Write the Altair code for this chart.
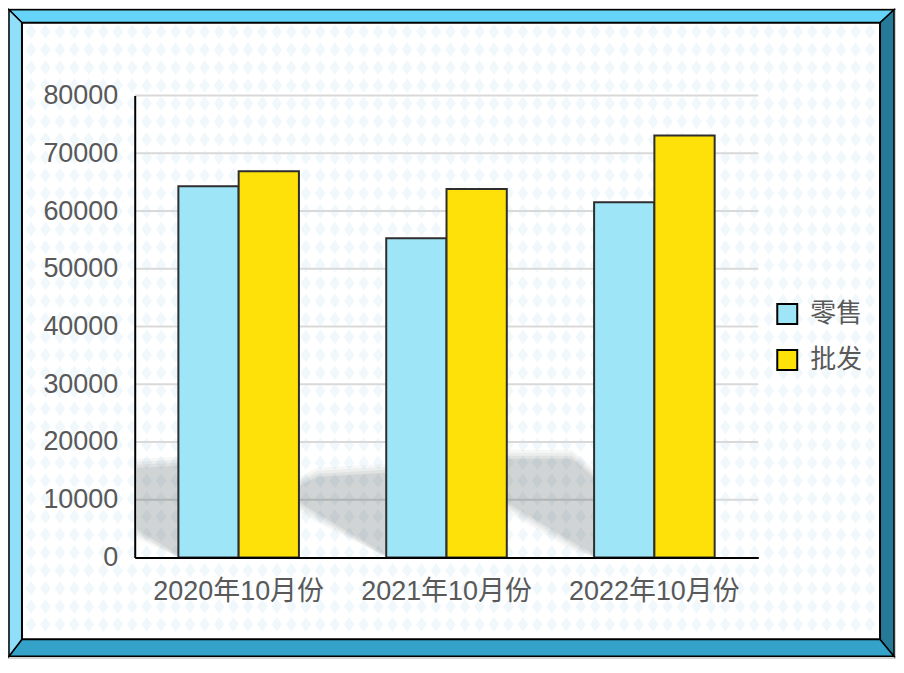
import altair as alt
import pandas as pd
import numpy as np

# ---------------- data ----------------
periods = ["2020年10月份", "2021年10月份", "2022年10月份"]
series = ["零售", "批发"]
retail = [64300, 55300, 61500]
wholesale = [66900, 63800, 73100]
y_ticks = [0, 10000, 20000, 30000, 40000, 50000, 60000, 70000, 80000]
colors = ["#9ee5f8", "#ffe10a"]

# ---------------- layout (page pixels) ----------------
OX, OY = 135, 95          # plot origin on the page
W, H = 625, 463           # plot area
FONT = "Liberation Sans, Noto Sans CJK SC"
LABEL = "#595959"

rows = []
for p, r, w in zip(periods, retail, wholesale):
    rows.append({"period": p, "type": series[0], "value": r})
    rows.append({"period": p, "type": series[1], "value": w})
df = pd.DataFrame(rows)

def vx(x):
    return x - OX

def vy(y):
    return y - OY

# frame bevels (page coords): side, x, y, y2, fill
L, R, T, B = 9, 896, 9, 657
IL, IR, IT, IB = 22, 882, 22, 640
frame_pts = [
    ("top", L, T, T, "#66d4f8"), ("top", IL, T, IT, "#66d4f8"),
    ("top", IR, T, IT, "#66d4f8"), ("top", R, T, T, "#66d4f8"),
    ("bottom", L, B, B, "#35a2c9"), ("bottom", IL, IB, B, "#35a2c9"),
    ("bottom", IR, IB, B, "#35a2c9"), ("bottom", R, B, B, "#35a2c9"),
    ("left", L, T, B, "#8fdffa"), ("left", IL, IT, IB, "#8fdffa"),
    ("right", IR, IT, IB, "#277a97"), ("right", R, T, B, "#277a97"),
]
frame_df = pd.DataFrame(
    [{"side": s, "x": vx(x), "y": vy(y), "y2": vy(y2), "fill": f} for s, x, y, y2, f in frame_pts]
)

# diamond background pattern
gx = np.arange(31, IR - 4, 14.5)
gy = np.arange(31, IB - 4, 18.0)
GX, GY = np.meshgrid(gx, gy)
pat_df = pd.DataFrame({"x": vx(GX.ravel()), "y": vy(GY.ravel())})

# soft shadows behind bar groups (page coords): id, x, y, y2
shadow_pts = [
    ("s1", 137, 467, 531), ("s1", 180, 465, 557),
    ("s2", 300, 485, 504), ("s2", 318, 476, 515), ("s2", 388, 472, 557),
    ("s3", 508, 458, 504), ("s3", 573, 458, 543), ("s3", 597, 478, 557),
]

def shadow_layer(grow, opacity):
    d = pd.DataFrame(
        [{"id": i, "x": vx(x), "y": vy(y) - grow, "y2": min(vy(y2) + grow, H)}
         for i, x, y, y2 in shadow_pts]
    )
    return alt.Chart(d).mark_area(
        orient="vertical", color="#2a3238", opacity=opacity
    ).encode(
        x=alt.X("x:Q", scale=None, axis=None),
        y=alt.Y("y:Q", scale=None, axis=None),
        y2="y2:Q",
        detail="id:N",
    )

grid_df = pd.DataFrame({"tick": y_ticks[1:]})

y_axis = alt.Axis(
    values=y_ticks, format="d", ticks=False, grid=False,
    domainColor="black", domainWidth=2, labelPadding=17,
    labelFontSize=27, labelColor=LABEL, labelFont=FONT, zindex=1,
)
y_scale = alt.Scale(domain=[0, 80000], nice=False)

# ---------------- layers ----------------
frame = alt.Chart(frame_df).mark_area(
    orient="vertical", stroke="black", strokeWidth=1.5
).encode(
    x=alt.X("x:Q", scale=None, axis=None),
    y=alt.Y("y:Q", scale=None, axis=None),
    y2="y2:Q",
    fill=alt.Fill("fill:N", scale=None, legend=None),
    detail="side:N",
)

panel = alt.Chart(pd.DataFrame({"a": [0]})).mark_rect(
    fill="white", stroke="black", strokeWidth=2
).encode(
    x=alt.value(vx(IL)), x2=alt.value(vx(IR)),
    y=alt.value(vy(IT)), y2=alt.value(vy(IB)),
)

pattern = alt.Chart(pat_df).mark_point(
    shape="M0,-1L0.72,0L0,1L-0.72,0Z", filled=True, size=220,
    color="#f1f8fc", opacity=1, strokeWidth=0
).encode(
    x=alt.X("x:Q", scale=None, axis=None),
    y=alt.Y("y:Q", scale=None, axis=None),
)

grid = alt.Chart(grid_df).mark_rule(color="#d9d9d9", strokeWidth=2).encode(
    y=alt.Y("tick:Q", scale=y_scale, axis=y_axis, title=None)
)

shadows = [shadow_layer(8, 0.04), shadow_layer(5, 0.05), shadow_layer(2, 0.06), shadow_layer(-1, 0.08)]

bars = alt.Chart(df).mark_bar(stroke="#2e2e2e", strokeWidth=2).encode(
    x=alt.X(
        "period:N", sort=periods, title=None,
        scale=alt.Scale(paddingInner=0.42, paddingOuter=0.21),
        axis=alt.Axis(
            labelAngle=0, ticks=False, domainColor="black", domainWidth=2,
            labelPadding=21, labelFontSize=27, labelColor=LABEL, labelFont=FONT,
            zindex=1, grid=False,
        ),
    ),
    xOffset=alt.XOffset("type:N", sort=series),
    y=alt.Y("value:Q", title=None, scale=y_scale, axis=y_axis),
    color=alt.Color(
        "type:N", sort=series,
        scale=alt.Scale(domain=series, range=colors),
        legend=alt.Legend(
            title=None, orient="none", legendX=641, legendY=206,
            symbolType="square", symbolSize=400, symbolStrokeColor="black",
            symbolStrokeWidth=2, labelFontSize=26, labelColor=LABEL,
            labelFont=FONT, labelOffset=10, rowPadding=18, padding=0, zindex=1,
        ),
    ),
)

chart = alt.layer(frame, panel, pattern, grid, *shadows, bars).properties(
    width=W, height=H,
    padding={"left": OX - 8, "top": OY - 8, "right": 898 - (OX + W), "bottom": 659 - (OY + H)},
    autosize=alt.AutoSizeParams(type="none"),
    background="#d4d4d4",
).configure_view(stroke=None)

chart.save("out.html", embed_options={"renderer": "svg", "actions": False})
